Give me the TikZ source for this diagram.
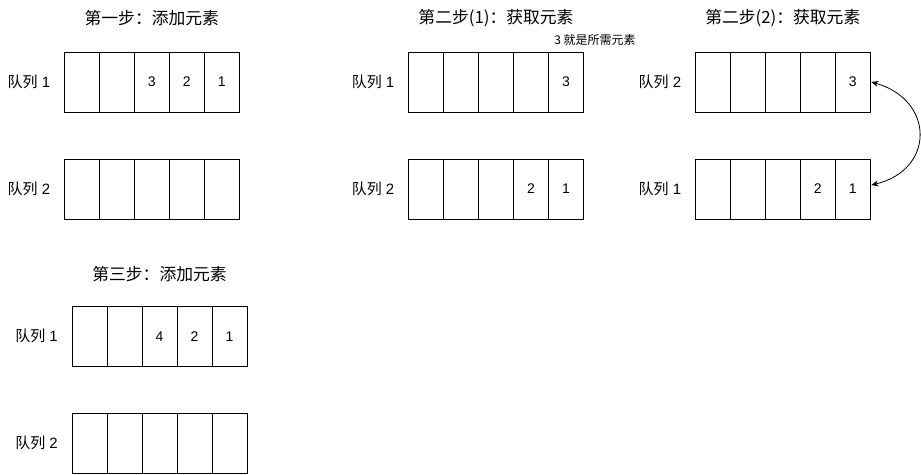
\documentclass[tikz,border=0pt]{standalone}
\usepackage{fontspec}
\setmainfont{Liberation Sans}
\newfontfamily\cjk{Noto Sans CJK SC}
\usetikzlibrary{positioning,arrows.meta}

\tikzset{
  cell/.style={draw, line width=1pt, minimum width=35pt, minimum height=60pt,
    inner sep=0pt, outer sep=0pt, font=\fontsize{14}{16}\selectfont},
  qlabel/.style={inner sep=0pt, font=\fontsize{15}{17}\selectfont},
  steptitle/.style={inner sep=0pt, font=\cjk\fontsize{16.8}{19}\selectfont},
  note/.style={inner sep=0pt, font=\cjk\fontsize{12}{14}\selectfont}
}

\begin{document}
\begin{tikzpicture}[x=1pt, y=-1pt]
        \useasboundingbox (0,0) rectangle (921,474);

        % 第一步：添加元素
        \begin{scope}[shift={(64.3,0)}]
            \node[steptitle] (a-title) at (87.5,18) {第一步：添加元素};
            \foreach \v [count=\i] in {{},{},3,2,1}
                \node[cell] (a1-\i) at ({17.5+35*(\i-1)},82) {\v};
            \foreach \i in {1,...,5}
                \node[cell] (a2-\i) at ({17.5+35*(\i-1)},189) {};
            \node[qlabel, left=14pt of a1-1] (a1-lab) {{\cjk 队列} 1};
            \node[qlabel, left=14pt of a2-1] (a2-lab) {{\cjk 队列} 2};
        \end{scope}

        % 第二步(1)：获取元素
        \begin{scope}[shift={(408.5,0)}]
            \node[steptitle] (b-title) at (87.5,18) {第二步(1)：获取元素};
            \node[note] (b-note) at (186.5,40) {3 就是所需元素};
            \foreach \v [count=\i] in {{},{},{},{},3}
                \node[cell] (b1-\i) at ({17.5+35*(\i-1)},82) {\v};
            \foreach \v [count=\i] in {{},{},{},2,1}
                \node[cell] (b2-\i) at ({17.5+35*(\i-1)},189) {\v};
            \node[qlabel, left=14pt of b1-1] (b1-lab) {{\cjk 队列} 1};
            \node[qlabel, left=14pt of b2-1] (b2-lab) {{\cjk 队列} 2};
        \end{scope}

        % 第二步(2)：获取元素
        \begin{scope}[shift={(695.3,0)}]
            \node[steptitle] (c-title) at (87.5,18) {第二步(2)：获取元素};
            \foreach \v [count=\i] in {{},{},{},{},3}
                \node[cell] (c1-\i) at ({17.5+35*(\i-1)},82) {\v};
            \foreach \v [count=\i] in {{},{},{},2,1}
                \node[cell] (c2-\i) at ({17.5+35*(\i-1)},189) {\v};
            \node[qlabel, left=14pt of c1-1] (c1-lab) {{\cjk 队列} 2};
            \node[qlabel, left=14pt of c2-1] (c2-lab) {{\cjk 队列} 1};
        \end{scope}

        % 交换队列
        \draw[{Stealth[length=7pt,width=6pt]}-{Stealth[length=7pt,width=6pt]}, line width=0.8pt]
            ([xshift=1pt]c1-5.east) .. controls (935,100) and (935,170) .. ([xshift=1pt,yshift=4pt]c2-5.east);

        % 第三步：添加元素
        \begin{scope}[shift={(72,0)}]
            \node[steptitle] (d-title) at (87.5,274) {第三步：添加元素};
            \foreach \v [count=\i] in {{},{},4,2,1}
                \node[cell] (d1-\i) at ({17.5+35*(\i-1)},336.3) {\v};
            \foreach \i in {1,...,5}
                \node[cell] (d2-\i) at ({17.5+35*(\i-1)},443) {};
            \node[qlabel, left=14pt of d1-1] (d1-lab) {{\cjk 队列} 1};
            \node[qlabel, left=14pt of d2-1] (d2-lab) {{\cjk 队列} 2};
        \end{scope}
    \end{tikzpicture}
\end{document}
